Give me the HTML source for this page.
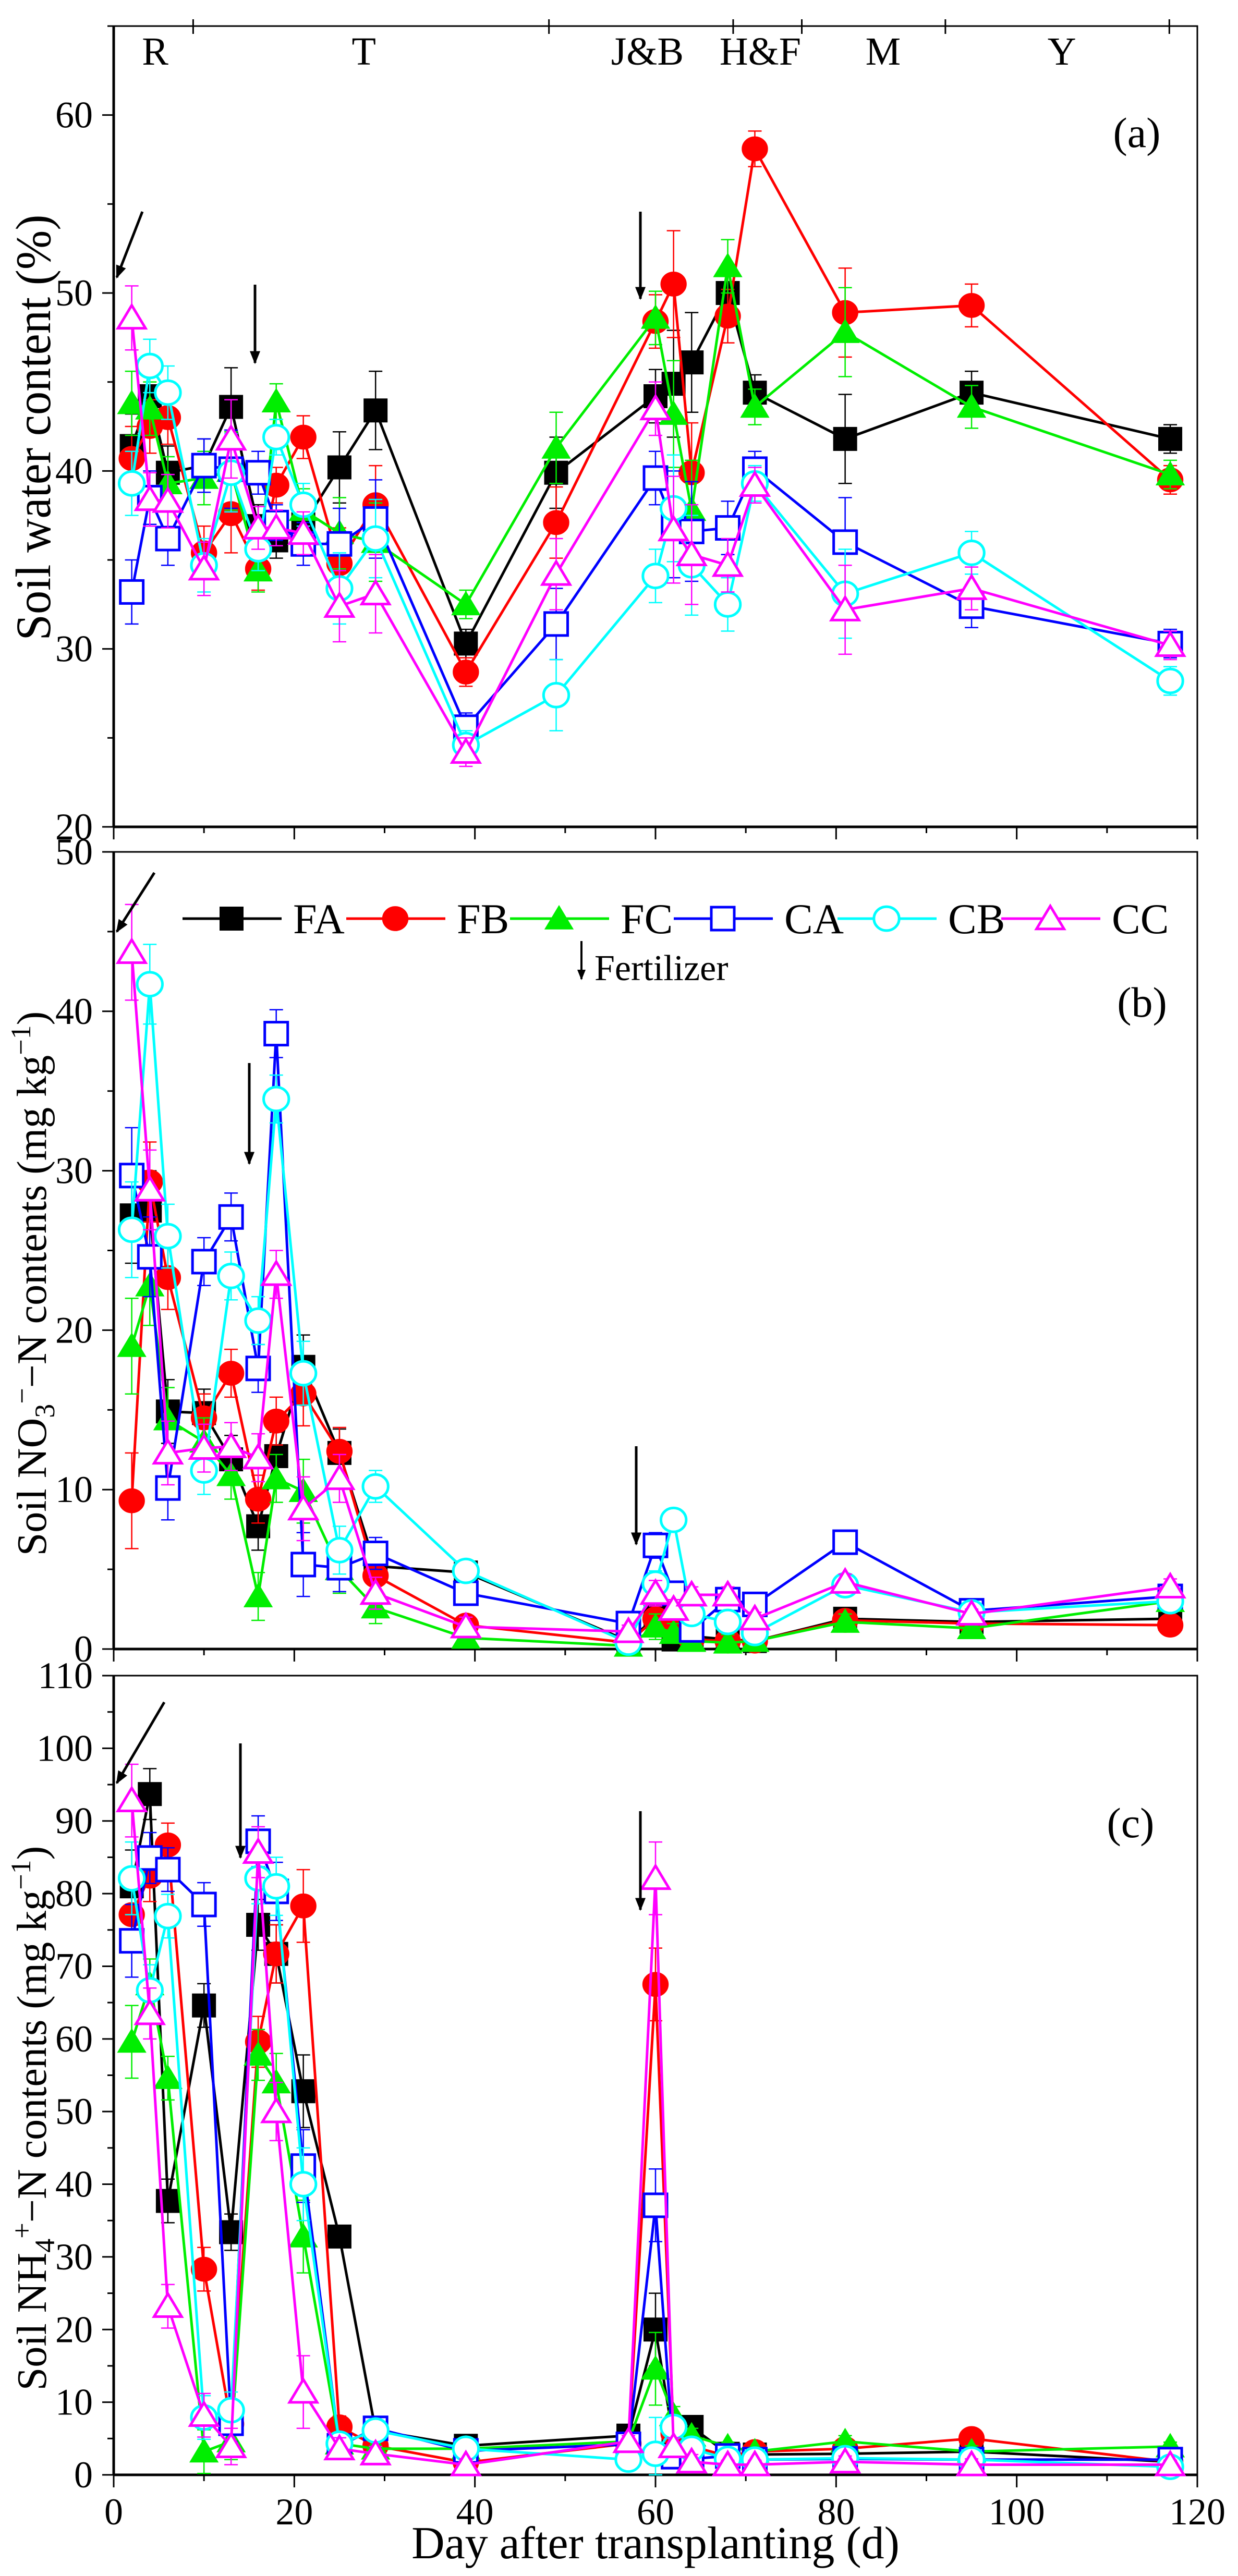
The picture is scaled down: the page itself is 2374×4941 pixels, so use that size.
<!DOCTYPE html>
<html><head><meta charset="utf-8">
<style>
html,body{margin:0;padding:0;background:#fff;}
svg{display:block;}
text{font-family:"Liberation Serif",serif;fill:#000;}
</style></head>
<body>
<svg id="chart" width="2374" height="4941" viewBox="0 0 2374 4941" xmlns="http://www.w3.org/2000/svg">
<g id="frames"></g>
<g id="series"></g>
<g id="annot"></g>
</svg>
<script>
// ---- data ----
const daysA = [2,4,6,10,13,16,18,21,25,29,39,49,60,62,64,68,71,81,95,117];
const daysBC = [2,4,6,10,13,16,18,21,25,29,39,57,60,62,64,68,71,81,95,117];
const seriesNames = ["FA","FB","FC","CA","CB","CC"];

const waterFA = [41.4,44.2,39.9,40.3,43.6,36.9,36.1,37.0,40.2,43.4,30.3,39.9,44.2,44.9,46.1,50.0,44.4,41.8,44.4,41.8];
const waterFB = [40.7,42.5,43.0,35.4,37.6,34.5,39.2,41.9,34.8,38.1,28.7,37.1,48.4,50.5,39.9,48.7,58.1,48.9,49.3,39.5];
const waterFC = [43.8,43.5,39.3,39.6,40.0,34.4,43.9,37.8,36.5,36.0,32.5,41.3,48.6,43.2,37.8,51.5,43.6,47.8,43.6,39.8];
const waterCA = [33.2,38.5,36.2,40.3,40.1,39.9,37.1,35.9,35.9,37.3,25.6,31.4,39.6,37.0,36.6,36.8,40.1,36.0,32.4,30.3];
const waterCB = [39.3,45.9,44.4,34.7,39.9,35.6,41.9,38.1,33.4,36.2,24.6,27.4,34.1,37.9,34.7,32.5,39.3,33.1,35.4,28.2];
const waterCC = [48.6,38.4,38.3,34.5,41.8,36.8,36.8,36.5,32.4,33.1,24.2,34.2,43.5,36.7,35.3,34.7,39.2,32.2,33.4,30.2];
const waterErr = [1.8,1.5,1.5,1.5,2.2,1.2,1.0,1.2,2.0,2.2,0.8,2.0,1.5,3.0,2.8,1.5,1.0,2.5,1.2,0.8];

const no3FA = [27.2,27.5,14.9,14.8,11.9,7.7,12.1,17.7,12.3,5.2,4.8,0.5,2.0,0.6,0.8,0.6,0.5,1.9,1.7,1.9];
const no3FB = [9.3,29.3,23.3,14.5,17.3,9.4,14.3,16.0,12.4,4.6,1.5,0.4,1.9,1.4,0.6,0.5,0.5,1.8,1.6,1.5];
const no3FC = [19.0,22.8,14.4,13.0,10.9,3.3,10.7,9.9,5.0,2.6,0.7,0.2,1.4,1.0,0.5,0.4,0.5,1.7,1.3,3.0];
const no3CA = [29.7,24.6,10.1,24.3,27.1,17.6,38.6,5.3,5.1,6.0,3.5,1.6,6.5,3.5,1.2,3.1,2.8,6.7,2.4,3.3];
const no3CB = [26.3,41.7,25.9,11.2,23.4,20.6,34.5,17.3,6.2,10.2,4.9,0.4,4.1,8.1,2.2,1.7,1.0,4.0,2.3,3.0];
const no3CC = [43.7,28.8,12.3,12.6,12.7,12.0,23.5,8.8,10.7,3.5,1.4,1.1,3.5,2.5,3.4,3.4,1.9,4.2,2.2,3.9];
const no3Err = [3.0,2.5,2.0,1.5,1.5,1.5,1.5,2.0,1.5,1.0,0.6,0.4,0.8,0.6,0.5,0.5,0.4,0.5,0.3,0.5];

const nh4FA = [81.0,93.7,37.7,64.6,33.4,75.7,71.7,52.8,32.8,6.1,4.0,5.4,20.0,4.8,6.6,2.9,2.8,2.9,3.2,1.8];
const nh4FB = [77.1,82.4,86.7,28.3,7.0,59.6,71.7,78.3,6.6,4.0,1.7,4.3,67.5,5.7,3.9,2.6,3.2,3.6,5.0,1.8];
const nh4FC = [59.6,67.5,54.6,3.2,4.6,57.8,54.0,32.8,4.3,3.6,3.6,4.6,14.6,8.2,5.4,3.9,3.2,4.6,3.2,3.9];
const nh4CA = [73.5,84.9,83.3,78.5,7.1,87.2,80.3,42.5,4.0,6.4,3.3,4.2,37.1,2.5,2.2,2.6,2.1,2.2,2.1,2.1];
const nh4CB = [82.1,66.7,76.9,7.9,8.9,82.1,81.0,40.0,4.3,6.1,3.6,2.1,2.9,6.6,3.6,2.2,2.1,2.3,2.1,1.1];
const nh4CC = [92.8,63.5,23.2,8.2,3.9,85.7,50.0,11.4,3.6,2.9,1.4,4.6,82.1,3.9,1.8,1.4,1.4,1.8,1.4,1.4];
const nh4Err = [5.0,3.5,3.0,3.0,2.5,3.5,4.0,5.0,1.5,1.0,0.8,0.8,5.0,1.2,1.0,0.6,0.6,0.8,0.8,0.6];

const yTicksA = [20,30,40,50,60];
const yTicksB = [0,10,20,30,40,50];
const yTicksC = [0,10,20,30,40,50,60,70,80,90,100,110];
const xTicks = [0,20,40,60,80,100,120];
const stageLabels = ["R","T","J&B","H&F","M","Y"];
const stageCenters = [4.6,27.7,59.1,71.6,85.2,105.0];
const stageBounds = [8.8,48.2,68.6,76.2,92.1,116.9];

// ---- geometry ----
const NS="http://www.w3.org/2000/svg";
const X0=218, X1=2296;
function xs(d){return X0+(d/120)*(X1-X0);}
const panels = {
  a:{top:50,bottom:1586,min:20,max:65},
  b:{top:1634,bottom:3163,min:0,max:50},
  c:{top:3214,bottom:4747,min:0,max:110}
};
function ys(p,v){const P=panels[p];return P.bottom-(v-P.min)/(P.max-P.min)*(P.bottom-P.top);}
function mk(tag,attrs,parent){const e=document.createElementNS(NS,tag);for(const k in attrs)e.setAttribute(k,attrs[k]);parent.appendChild(e);return e;}
const frames=document.getElementById('frames');
const seriesG=document.getElementById('series');
const annot=document.getElementById('annot');

// ---- frames & axes ----
function drawPanel(p,ticks,minorStep,showXLabels){
  const P=panels[p];
  const fr=mk('rect',{x:X0,y:P.top,width:X1-X0,height:P.bottom-P.top,fill:'none',stroke:'#000','stroke-width':3},frames);
  
  
  const la=mk('line',{x1:X0,y1:P.top,x2:X0,y2:P.bottom,stroke:'#000','stroke-width':5},frames);
  
  
  const ba=mk('line',{x1:X0,y1:P.bottom,x2:X1,y2:P.bottom,stroke:'#000','stroke-width':5},frames);
  
  
  for(let v=P.min; v<=P.max+0.001; v+=minorStep){
    const y=ys(p,v);
    const major = ticks.indexOf(v)>=0;
    const t=mk('line',{x1:X0-(major?22:12),y1:y,x2:X0,y2:y,stroke:'#000','stroke-width':3},frames);
    
    
  }
  ticks.forEach(v=>{
    const tx=mk('text',{x:178,y:ys(p,v)+24,'text-anchor':'end','font-size':72},frames);
    tx.textContent=v;
    
    
  });
  for(let d=0; d<=120; d+=10){
    const major=d%20===0;
    const t=mk('line',{x1:xs(d),y1:P.bottom,x2:xs(d),y2:P.bottom+(major?24:12),stroke:'#000','stroke-width':3},frames);
    
    
  }
  if(showXLabels){
    xTicks.forEach(d=>{
      const tx=mk('text',{x:xs(d),y:4842,'text-anchor':'middle','font-size':72},frames);
      tx.textContent=d;
      
      
    });
  }
}
drawPanel('a',yTicksA,5,false);
drawPanel('b',yTicksB,5,false);
drawPanel('c',yTicksC,5,true);

stageBounds.forEach(d=>{
  const t=mk('line',{x1:xs(d),y1:37,x2:xs(d),y2:65,stroke:'#000','stroke-width':3},frames);
  
  
});
stageLabels.forEach((s,i)=>{
  const t=mk('text',{x:xs(stageCenters[i]),y:124,'text-anchor':'middle','font-size':76},frames);
  t.textContent=s;
  
  
});

// ---- series ----
const colors=["#000000","#ff0000","#00ee00","#0000ff","#00ffff","#ff00ff"];
const shapes=["square","circle","triangle","square","circle","triangle"];
const filled=[true,true,true,false,false,false];
function marker(g,shape,cx,cy,color,fill,size){
  let e;
  const s=size;
  if(shape==='square') e=mk('rect',{x:cx-s/2,y:cy-s/2,width:s,height:s},g);
  else if(shape==='circle') e=mk('ellipse',{cx:cx,cy:cy,rx:s*0.55,ry:s*0.52},g);
  else e=mk('polygon',{points:(cx)+','+(cy-s*0.55)+' '+(cx-s*0.6)+','+(cy+s*0.45)+' '+(cx+s*0.6)+','+(cy+s*0.45)},g);
  if(fill){e.setAttribute('fill',color);e.setAttribute('stroke',color);e.setAttribute('stroke-width',2);}
  else {e.setAttribute('fill','#fff');e.setAttribute('stroke',color);e.setAttribute('stroke-width',5);}
  return e;
}
function drawSeries(p,days,dataArr,errArr){
  dataArr.forEach((vals,i)=>{
    const g=mk('g',{},seriesG);
    
    
    const pts=vals.map((v,j)=>xs(days[j])+','+ys(p,v)).join(' ');
    const pl=mk('polyline',{points:pts,fill:'none',stroke:colors[i],'stroke-width':5,'stroke-linejoin':'round'},g);
    
    
    vals.forEach((v,j)=>{
      const x=xs(days[j]);
      const e=errArr[j];
      const y1=ys(p,v+e), y2=ys(p,Math.max(panels[p].min,v-e));
      const eb=mk('path',{d:'M'+x+' '+y1+'V'+y2+'M'+(x-13)+' '+y1+'H'+(x+13)+'M'+(x-13)+' '+y2+'H'+(x+13),stroke:colors[i],'stroke-width':2.5,fill:'none'},g);
      
      
    });
    vals.forEach((v,j)=>{
      const m=marker(g,shapes[i],xs(days[j]),ys(p,v),colors[i],filled[i],44);
      
      
    });
  });
}
drawSeries('a',daysA,[waterFA,waterFB,waterFC,waterCA,waterCB,waterCC],waterErr);
drawSeries('b',daysBC,[no3FA,no3FB,no3FC,no3CA,no3CB,no3CC],no3Err);
drawSeries('c',daysBC,[nh4FA,nh4FB,nh4FC,nh4CA,nh4CB,nh4CC],nh4Err);

// ---- legend ----
const lg=mk('g',{},annot);


seriesNames.forEach((n,i)=>{
  const x0=350+i*314, y=1762;
  const eg=mk('g',{},lg);
  
  
  mk('line',{x1:x0,y1:y,x2:x0+190,y2:y,stroke:colors[i],'stroke-width':5},eg);
  marker(eg,shapes[i],x0+94,y,colors[i],filled[i],44);
  const t=mk('text',{x:x0+212,y:y+28,'font-size':82},eg);
  t.textContent=n;
});
</script>
<svg style="position:absolute;left:0;top:0" width="2374" height="4941" viewBox="0 0 2374 4941">
<defs>
<marker id="ah" viewBox="0 0 10 10" refX="9" refY="5" markerWidth="5" markerHeight="6" orient="auto"><path d="M0,1 L10,5 L0,9 Z" fill="#000"/></marker>
</defs>
<g stroke="#000" stroke-width="5" fill="none">
<line x1="273" y1="406" x2="224" y2="532" marker-end="url(#ah)"/>
<line x1="489" y1="546" x2="489" y2="696" marker-end="url(#ah)"/>
<line x1="1228" y1="406" x2="1228" y2="573" marker-end="url(#ah)"/>
<line x1="296" y1="1674" x2="224" y2="1787" marker-end="url(#ah)"/>
<line x1="478" y1="2039" x2="478" y2="2232" marker-end="url(#ah)"/>
<line x1="1220" y1="2774" x2="1220" y2="2962" marker-end="url(#ah)"/>
<line x1="315" y1="3265" x2="224" y2="3420" marker-end="url(#ah)"/>
<line x1="461" y1="3344" x2="461" y2="3563" marker-end="url(#ah)"/>
<line x1="1228" y1="3474" x2="1228" y2="3663" marker-end="url(#ah)"/>
<line x1="1115" y1="1805" x2="1115" y2="1878" stroke-width="4" marker-end="url(#ah)"/>
</g>
<text x="1140" y="1880" font-size="70" font-family="Liberation Serif, serif">Fertilizer</text>
<text x="2180" y="282" text-anchor="middle" font-size="82" font-family="Liberation Serif, serif">(a)</text>
<text x="2190" y="1950" text-anchor="middle" font-size="82" font-family="Liberation Serif, serif">(b)</text>
<text x="2168" y="3524" text-anchor="middle" font-size="82" font-family="Liberation Serif, serif">(c)</text>
<text transform="translate(96,820) rotate(-90)" text-anchor="middle" font-size="95" textLength="817" lengthAdjust="spacingAndGlyphs" font-family="Liberation Serif, serif">Soil water content (%)</text>
<text transform="translate(88,2462) rotate(-90)" text-anchor="middle" font-size="80" font-family="Liberation Serif, serif">Soil NO<tspan font-size="54" dy="16">3</tspan><tspan font-size="54" dy="-44">−</tspan><tspan dy="28">−N contents (mg kg</tspan><tspan font-size="54" dy="-30">−1</tspan><tspan dy="30">)</tspan></text>
<text transform="translate(88,4063) rotate(-90)" text-anchor="middle" font-size="80" font-family="Liberation Serif, serif">Soil NH<tspan font-size="54" dy="16">4</tspan><tspan font-size="54" dy="-44">+</tspan><tspan dy="28">−N contents (mg kg</tspan><tspan font-size="54" dy="-30">−1</tspan><tspan dy="30">)</tspan></text>
<text x="1257" y="4907" text-anchor="middle" font-size="88" font-family="Liberation Serif, serif">Day after transplanting (d)</text>
</svg>
</body></html>
